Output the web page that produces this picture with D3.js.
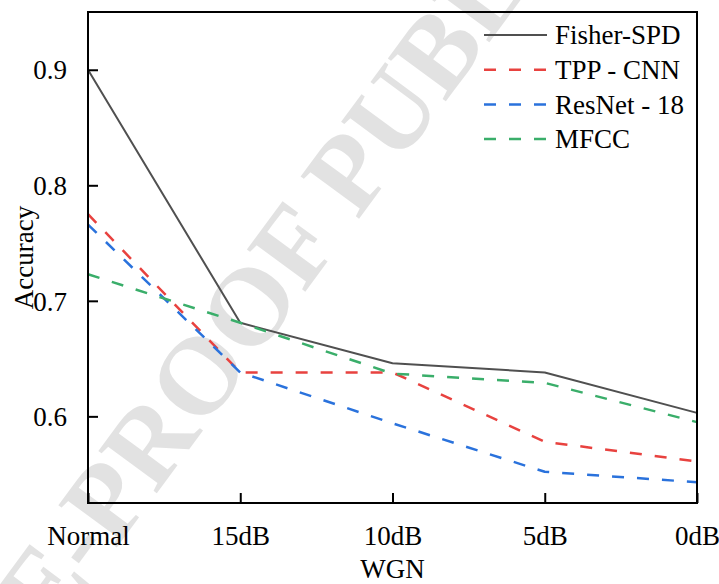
<!DOCTYPE html>
<html>
<head>
<meta charset="utf-8">
<script src="https://cdn.jsdelivr.net/npm/d3@7"></script>
<style>
    html, body { margin: 0; padding: 0; background: #fff; }
    svg text { font-family: "Liberation Serif", "Times New Roman", Times, "DejaVu Serif", serif; }
</style>
</head>
<body>
<div id="chart"></div>
<script>
const categories = ["Normal", "15dB", "10dB", "5dB", "0dB"];
const yTicks = [0.6, 0.7, 0.8, 0.9];

const fisherSpd = [0.900, 0.681, 0.646, 0.638, 0.603];
const tppCnn = [0.775, 0.638, 0.638, 0.578, 0.561];
const resNet18 = [0.766, 0.638, 0.594, 0.552, 0.543];
const mfcc = [0.723, 0.681, 0.637, 0.629, 0.595];

const seriesNames = ["Fisher-SPD", "TPP - CNN", "ResNet - 18", "MFCC"];

(function () {
    const width = 719;
    const height = 584;
    const margin = { top: 12, right: 22, bottom: 81, left: 88 };
    const plotW = width - margin.left - margin.right;
    const plotH = height - margin.top - margin.bottom;
    const fontSize = 27;

    const series = [
        { name: seriesNames[0], values: fisherSpd, color: "#505050", dash: null, width: 2 },
        { name: seriesNames[1], values: tppCnn, color: "#e8423f", dash: "12,13", width: 2.5 },
        { name: seriesNames[2], values: resNet18, color: "#2a72dc", dash: "12,13", width: 2.5 },
        { name: seriesNames[3], values: mfcc, color: "#3aae6a", dash: "12,13", width: 2.5 }
    ];

    const svg = d3.select("#chart")
        .append("svg")
        .attr("width", width)
        .attr("height", height)
        .style("display", "block");

    // watermark behind everything
    svg.append("text")
        .attr("transform", "translate(-37,756) rotate(-53.6)")
        .attr("font-size", 110)
        .attr("font-weight", "bold")
        .attr("fill", "#e2e2e2")
        .text("PRE-PROOF PUBLISHED");

    const g = svg.append("g")
        .attr("transform", `translate(${margin.left},${margin.top})`);

    const x = d3.scalePoint()
        .domain(categories)
        .range([0, plotW])
        .padding(0);

    const y = d3.scaleLinear()
        .domain([0.525, 0.95])
        .range([plotH, 0]);

    const line = d3.line()
        .x((d, i) => x(categories[i]))
        .y(d => y(d));

    // series
    g.append("g")
        .selectAll("path")
        .data(series)
        .join("path")
        .attr("d", d => line(d.values))
        .attr("fill", "none")
        .attr("stroke", d => d.color)
        .attr("stroke-width", d => d.width)
        .attr("stroke-dasharray", d => d.dash)
        .attr("stroke-linejoin", "round");

    // axes, ticks pointing inward
    const yAxis = g.append("g")
        .call(d3.axisLeft(y).tickValues(yTicks).tickSize(-10).tickPadding(21)
            .tickFormat(d3.format(".1f")));

    const xAxis = g.append("g")
        .attr("transform", `translate(0,${plotH})`)
        .call(d3.axisBottom(x).tickSize(-10).tickPadding(23));

    [yAxis, xAxis].forEach(ax => {
        ax.attr("font-family", null).attr("font-size", null);
        ax.select(".domain").remove();
        ax.selectAll(".tick line").attr("stroke", "#000").attr("stroke-width", 2);
        ax.selectAll(".tick text")
            .attr("fill", "#000")
            .attr("font-size", fontSize);
    });
    yAxis.selectAll(".tick text").attr("dy", "0.34em");
    xAxis.selectAll(".tick text").attr("dy", "0.7em");

    // frame
    g.append("rect")
        .attr("width", plotW)
        .attr("height", plotH)
        .attr("fill", "none")
        .attr("stroke", "#000")
        .attr("stroke-width", 2);

    // axis titles
    svg.append("text")
        .attr("transform", `translate(33,${margin.top + plotH / 2}) rotate(-90)`)
        .attr("text-anchor", "middle")
        .attr("font-size", fontSize)
        .text("Accuracy");

    svg.append("text")
        .attr("x", margin.left + plotW / 2)
        .attr("y", 578)
        .attr("text-anchor", "middle")
        .attr("font-size", fontSize)
        .text("WGN");

    // legend
    const legend = svg.append("g")
        .attr("transform", "translate(484,35)");

    const item = legend.selectAll("g")
        .data(series)
        .join("g")
        .attr("transform", (d, i) => `translate(0,${i * 34.7})`);

    item.append("line")
        .attr("x1", 0)
        .attr("x2", 63)
        .attr("stroke", d => d.color)
        .attr("stroke-width", d => d.width)
        .attr("stroke-dasharray", d => d.dash);

    item.append("text")
        .attr("x", 71)
        .attr("dy", "0.34em")
        .attr("font-size", fontSize)
        .text(d => d.name);
})();
</script>
</body>
</html>
